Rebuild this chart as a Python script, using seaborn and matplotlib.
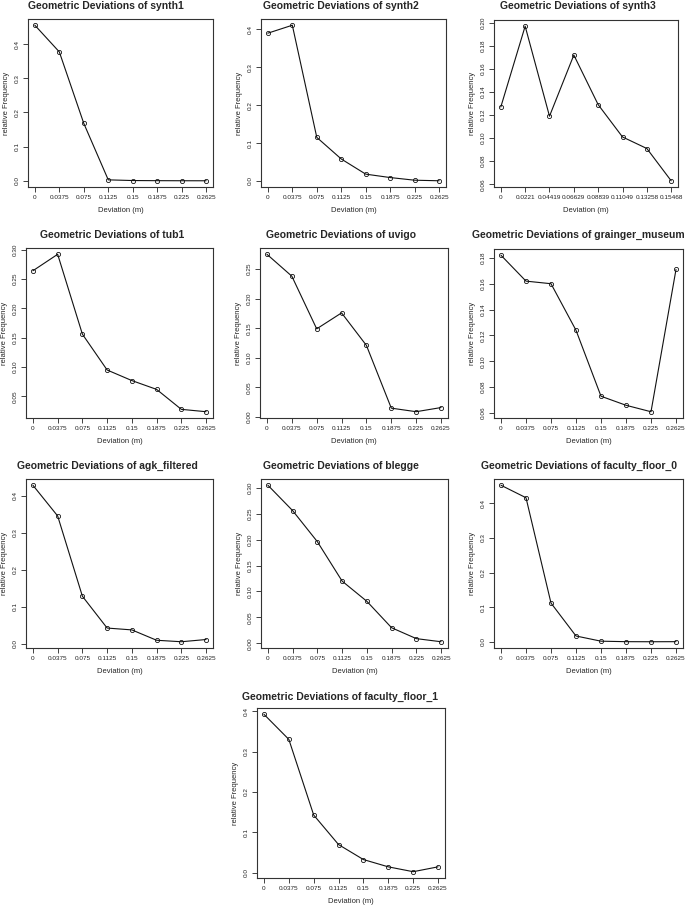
import numpy as np
import pandas as pd
import matplotlib
matplotlib.use("Agg")
import matplotlib.pyplot as plt
import seaborn as sns
from matplotlib.ticker import MultipleLocator, FormatStrFormatter

sns.set_style("white")
plt.rcParams["font.family"] = ["Liberation Sans", "DejaVu Sans"]

# ----------------------------------------------------------
# DATA
# ----------------------------------------------------------

dev_labels = ["0", "0.0375", "0.075", "0.1125", "0.15", "0.1875", "0.225", "0.2625"]
synth3_labels = ["0", "0.0221", "0.04419", "0.06629", "0.08839", "0.11049", "0.13258", "0.15468"]

synth1 = [0.455, 0.377, 0.168, 0.003, 0.001, 0.0006, 0.0004, 0.0003]
synth2 = [0.390, 0.411, 0.115, 0.058, 0.018, 0.009, 0.002, 0.0005]
synth3 = [0.127, 0.197, 0.119, 0.172, 0.129, 0.101, 0.091, 0.063]
tub1 = [0.264, 0.292, 0.156, 0.095, 0.077, 0.062, 0.028, 0.024]
uvigo = [0.275, 0.238, 0.149, 0.176, 0.121, 0.015, 0.009, 0.016]
grainger_museum = [0.182, 0.162, 0.160, 0.124, 0.073, 0.066, 0.061, 0.171]
agk_filtered = [0.428, 0.345, 0.128, 0.042, 0.037, 0.009, 0.005, 0.011]
blegge = [0.305, 0.256, 0.196, 0.120, 0.081, 0.030, 0.009, 0.003]
faculty_floor_0 = [0.452, 0.416, 0.112, 0.017, 0.002, 0.0006, 0.0004, 0.0006]
faculty_floor_1 = [0.392, 0.330, 0.143, 0.070, 0.033, 0.015, 0.003, 0.015]

panels = [
    ("synth1", synth1, dev_labels, 0.1, "%.1f"),
    ("synth2", synth2, dev_labels, 0.1, "%.1f"),
    ("synth3", synth3, synth3_labels, 0.02, "%.2f"),
    ("tub1", tub1, dev_labels, 0.05, "%.2f"),
    ("uvigo", uvigo, dev_labels, 0.05, "%.2f"),
    ("grainger_museum", grainger_museum, dev_labels, 0.02, "%.2f"),
    ("agk_filtered", agk_filtered, dev_labels, 0.1, "%.1f"),
    ("blegge", blegge, dev_labels, 0.05, "%.2f"),
    ("faculty_floor_0", faculty_floor_0, dev_labels, 0.1, "%.1f"),
    ("faculty_floor_1", faculty_floor_1, dev_labels, 0.1, "%.1f"),
]

# ----------------------------------------------------------
# LAYOUT (pixels)
# ----------------------------------------------------------

# plot boxes: left, top, right, bottom
boxes = [
    (28, 19, 213, 187), (261, 19, 446, 187), (494, 20, 678, 187),
    (26, 248, 213, 418), (260, 248, 448, 418), (494, 249, 683, 418),
    (26, 479, 213, 648), (261, 479, 448, 648), (494, 479, 683, 648),
    (257, 708, 445, 878),
]

# title centre x and baseline y
title_pos = [
    (106, 9), (341, 9), (578, 9),
    (112, 238), (341, 238), (578, 238),
    (107, 469), (341, 469), (579, 469),
    (340, 700),
]

W, H = 685, 905

# ----------------------------------------------------------
# FIGURE
# ----------------------------------------------------------

fig = plt.figure(figsize=(W / 100, H / 100), dpi=100)

for (name, vals, labels, step, fmt), (l, t, r, b), (tx, ty) in zip(panels, boxes, title_pos):

    ax = fig.add_axes([l / W, 1 - b / H, (r - l) / W, (b - t) / H])

    df = pd.DataFrame({"pos": np.arange(len(vals)), "freq": vals})

    sns.lineplot(
        data=df, x="pos", y="freq", ax=ax,
        color="#111111", linewidth=0.8,
        marker="o", markersize=3,
        markerfacecolor="none", markeredgecolor="#111111", markeredgewidth=0.6,
    )

    # R style 4% padding
    n = len(vals)
    ax.set_xlim(-0.04 * (n - 1), (n - 1) * 1.04)
    lo, hi = min(vals), max(vals)
    pad = 0.04 * (hi - lo)
    ax.set_ylim(lo - pad, hi + pad)

    ax.set_xticks(np.arange(n))
    ax.set_xticklabels(labels)
    ax.yaxis.set_major_locator(MultipleLocator(step))
    ax.yaxis.set_major_formatter(FormatStrFormatter(fmt))

    ax.tick_params(direction="out", length=3.5, width=0.6, labelsize=4.6,
                   pad=2.5, colors="#222222", left=True, bottom=True)
    ax.tick_params(axis="y", labelrotation=90)
    for lab in ax.get_yticklabels():
        lab.set_va("center")

    for s in ax.spines.values():
        s.set_visible(True)
        s.set_color("#333333")
        s.set_linewidth(0.8)

    ax.set_xlabel("Deviation (m)", fontsize=5.5, labelpad=5)
    ax.set_ylabel("relative Frequency", fontsize=5.5, labelpad=3.5)

    fig.text(tx / W, 1 - ty / H, "Geometric Deviations of " + name,
             fontsize=7.5, fontweight="bold", ha="center", va="baseline")

plt.savefig("out.png", dpi=100)
plt.close()
